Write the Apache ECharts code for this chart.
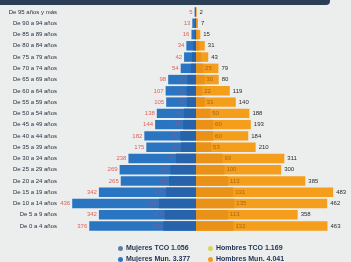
<!DOCTYPE html>
<html>
<head>
<meta charset="utf-8">
<script src="https://cdn.jsdelivr.net/npm/echarts@6/dist/echarts.min.js"></script>
<style>
  html, body { margin: 0; padding: 0; background: #eceeee; }
  #chart { width: 351px; height: 262px; }
</style>
</head>
<body>
<div id="chart"></div>
<script>
// grupos de edad, de arriba abajo
var edades = ['De 95 años y más', 'De 90 a 94 años', 'De 85 a 89 años', 'De 80 a 84 años',
  'De 75 a 79 años', 'De 70 a 74 años', 'De 65 a 69 años', 'De 60 a 64 años',
  'De 55 a 59 años', 'De 50 a 54 años', 'De 45 a 49 años', 'De 40 a 44 años',
  'De 35 a 39 años', 'De 30 a 34 años', 'De 25 a 29 años', 'De 20 a 24 años',
  'De 15 a 19 años', 'De 10 a 14 años', 'De 5 a 9 años', 'De 0 a 4 años'];
var mujeresMun = [5, 13, 16, 34, 42, 54, 98, 107, 105, 138, 144, 182, 175, 238, 269, 265, 342, 436, 342, 376];
var mujeresTCO = [1, 4, 5, 10, 14, 18, 30, 33, 32, 42, 45, 55, 52, 70, 90, 95, 105, 130, 110, 115];
var hombresMun = [2, 7, 15, 31, 43, 79, 80, 119, 140, 188, 193, 184, 210, 311, 300, 385, 483, 462, 358, 463];
var hombresTCO = [1, 3, 6, 12, 18, 25, 30, 22, 31, 50, 60, 60, 53, 93, 100, 113, 131, 135, 113, 132];
var totales = { 'Mujeres TCO': '1.056', 'Hombres TCO': '1.169', 'Mujeres Mun.': '3.377', 'Hombres Mun.': '4.041' };

var fuente = "'Liberation Sans Narrow', 'Liberation Sans', sans-serif";
var myChart = echarts.init(document.getElementById('chart'));

function leyenda(nombre, left, top, color) {
  return {
    data: [{ name: nombre, itemStyle: { color: color } }],
    left: left, top: top,
    icon: 'circle', itemWidth: 5, itemHeight: 5, itemGap: 2,
    textStyle: { fontFamily: fuente, fontSize: 7, fontWeight: 'bold', color: '#1f3150', padding: [0, 0, 0, -2] },
    formatter: function (n) { return n + ' ' + totales[n]; }
  };
}

var option = {
  animation: false,
  backgroundColor: '#eceeee',
  graphic: [{
    type: 'rect', left: 0, top: 0, z: 100,
    shape: { width: 330, height: 5, r: [0, 0, 4, 0] },
    style: { fill: '#2c3d56' }
  }],
  legend: [
    leyenda('Mujeres TCO', 113, 240, '#5f7fa3'),
    leyenda('Hombres TCO', 203, 240, '#d9d65e'),
    leyenda('Mujeres Mun.', 113, 251, '#2a78c4'),
    leyenda('Hombres Mun.', 203, 251, '#f29c1c')
  ],
  grid: [
    { left: 60, right: 155, top: 6.4, bottom: 30.4 },
    { left: 196, right: 13, top: 6.4, bottom: 30.4 }
  ],
  xAxis: [
    { gridIndex: 0, type: 'value', min: 0, max: 479, inverse: true, show: false },
    { gridIndex: 1, type: 'value', min: 0, max: 500, show: false }
  ],
  yAxis: [
    {
      gridIndex: 0, type: 'category', data: edades, inverse: true,
      axisLine: { show: false }, axisTick: { show: false },
      axisLabel: { fontFamily: fuente, fontSize: 6, color: '#26303f', margin: 3 }
    },
    {
      gridIndex: 1, type: 'category', data: edades, inverse: true, show: false
    }
  ],
  series: [
    {
      name: 'Mujeres Mun.', type: 'bar', xAxisIndex: 0, yAxisIndex: 0,
      data: mujeresMun, barCategoryGap: '16%', barGap: '-100%',
      itemStyle: { color: '#2a75c2' },
      label: { show: true, position: 'left', distance: 2, fontFamily: fuente, fontSize: 6, color: '#e0625a' }
    },
    {
      name: 'Mujeres TCO', type: 'bar', xAxisIndex: 0, yAxisIndex: 0,
      data: mujeresTCO, barCategoryGap: '16%', barGap: '-100%',
      itemStyle: { color: '#2663aa' },
      label: {
        show: true, position: 'left', distance: 2, fontFamily: fuente, fontSize: 6, color: '#8a5a8a',
        formatter: function (p) { return p.value >= 20 ? p.value : ''; }
      }
    },
    {
      name: 'Hombres Mun.', type: 'bar', xAxisIndex: 1, yAxisIndex: 1,
      data: hombresMun, barCategoryGap: '16%', barGap: '-100%',
      itemStyle: { color: '#f49e1c' },
      label: { show: true, position: 'right', distance: 3, fontFamily: fuente, fontSize: 6, color: '#2b2b2b' }
    },
    {
      name: 'Hombres TCO', type: 'bar', xAxisIndex: 1, yAxisIndex: 1,
      data: hombresTCO, barCategoryGap: '16%', barGap: '-100%',
      itemStyle: { color: '#ea9218' },
      label: {
        show: true, position: 'right', distance: 2, fontFamily: fuente, fontSize: 6, color: '#a8661a',
        formatter: function (p) { return p.value >= 20 ? p.value : ''; }
      }
    }
  ]
};

myChart.setOption(option);
</script>
</body>
</html>
